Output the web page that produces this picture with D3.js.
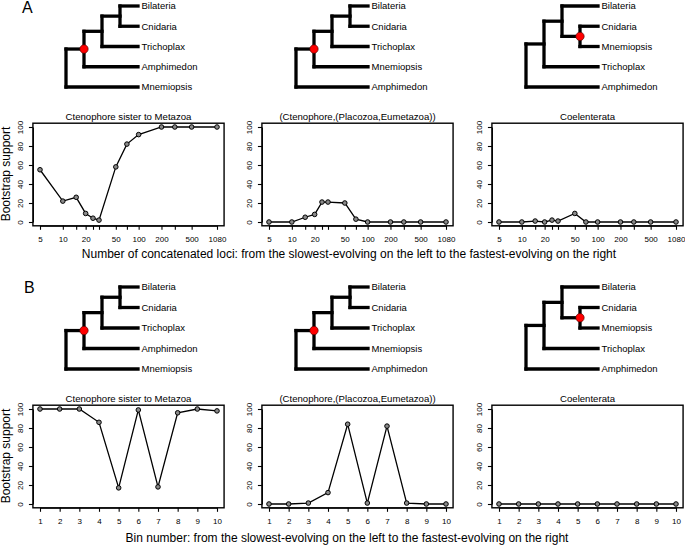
<!DOCTYPE html>
<html><head><meta charset="utf-8">
<script src="https://cdn.jsdelivr.net/npm/d3@7"></script>
<style>body{margin:0;background:#fff}svg{display:block}text{font-family:"Liberation Sans",Arial,Helvetica,sans-serif;fill:#000}</style>
</head><body>
<script>
// ---------- data ----------
const lociCounts = [5,10,15,20,25,30,50,70,100,200,300,500,1080];
const lociTickLabels = [5,10,20,50,100,200,500,1080];
const supportA_sister = [55,22,26,9,4,2,58,82,92,100,100,100,100];
const supportA_placozoa = [0,0,5,8,21,21,20,3,0,0,0,0,0];
const supportA_coelenterata = [0,0,1,0,2,1,9,0,0,0,0,0,0];

const binNumbers = [1,2,3,4,5,6,7,8,9,10];
const supportB_sister = [100,100,100,86,17,99,18,96,100,98];
const supportB_placozoa = [0,0,1,12,84,1,82,1,0,0];
const supportB_coelenterata = [0,0,0,0,0,0,0,0,0,0];

const yTicks = [0,20,40,60,80,100];
const plotTitles = ["Ctenophore sister to Metazoa","(Ctenophore,(Placozoa,Eumetazoa))","Coelenterata"];

const treeSister = [[[["Bilateria","Cnidaria"],"Trichoplax"],"Amphimedon"],"Mnemiopsis"];
const treePlacozoa = [[[["Bilateria","Cnidaria"],"Trichoplax"],"Mnemiopsis"],"Amphimedon"];
const treeCoelenterata = [[["Bilateria",["Cnidaria","Mnemiopsis"]],"Trichoplax"],"Amphimedon"];
const markedNodePaths = [[0],[0],[0,0,1]];

const xLabelA = "Number of concatenated loci: from the slowest-evolving on the left to the fastest-evolving on the right";
const xLabelB = "Bin number: from the slowest-evolving on the left to the fastest-evolving on the right";
const yLabel = "Bootstrap support";

// ---------- layout ----------
const W = 685, H = 546;
const svg = d3.select("body").append("svg").attr("width", W).attr("height", H);

const colX0 = [40, 269, 499];   // data start x per column
const colSpan = 177;
const treeRootX = [66, 296, 526];
const depthStep = 18;

function drawTree(tree, rootX, tipY0, tipStep, markPath) {
  const root = d3.hierarchy(tree, d => Array.isArray(d) ? d : null);
  const leaves = root.leaves();
  const tipX = rootX + 4 * depthStep;
  leaves.forEach((l, i) => { l.y0 = tipY0 + i * tipStep; });
  root.eachAfter(n => {
    if (n.children) {
      n.px = rootX + n.depth * depthStep;
      n.y0 = (n.children[0].y0 + n.children[n.children.length - 1].y0) / 2;
    } else n.px = tipX;
  });
  const g = svg.append("g");
  const lw = 3.3;
  root.each(n => {
    if (!n.children) return;
    const ys = n.children.map(c => c.y0);
    g.append("line").attr("x1", n.px).attr("x2", n.px)
      .attr("y1", d3.min(ys)).attr("y2", d3.max(ys))
      .attr("stroke", "#000").attr("stroke-width", lw).attr("stroke-linecap", "square");
    n.children.forEach(c => {
      g.append("line").attr("x1", n.px).attr("x2", c.px)
        .attr("y1", c.y0).attr("y2", c.y0)
        .attr("stroke", "#000").attr("stroke-width", lw).attr("stroke-linecap", "square");
    });
  });
  leaves.forEach(l => {
    g.append("text").attr("x", tipX + 3.5).attr("y", l.y0 + 3.3)
      .attr("font-size", 9.5).text(l.data);
  });
  let m = root;
  markPath.forEach(i => { m = m.children[i]; });
  g.append("circle").attr("cx", m.px).attr("cy", m.y0).attr("r", 4.2)
    .attr("fill", "#ff0000").attr("stroke", "#400").attr("stroke-width", 0.6);
}

function drawPlot(col, yTop100, yBottom0, xs, ys, logScale, tickVals, labelVals, title) {
  const x0 = colX0[col], x1 = x0 + colSpan;
  const x = (logScale ? d3.scaleLog() : d3.scaleLinear())
    .domain([xs[0], xs[xs.length - 1]]).range([x0, x1]);
  const y = d3.scaleLinear().domain([0, 100]).range([yBottom0, yTop100]);
  const padX = colSpan * 0.04, padY = (yBottom0 - yTop100) * 0.04;
  const bx0 = x0 - padX, bx1 = x1 + padX, by0 = yTop100 - padY, by1 = yBottom0 + padY;
  const g = svg.append("g");

  // x axis
  const xAxis = d3.axisBottom(x).tickValues(tickVals).tickSize(4).tickSizeOuter(0)
    .tickFormat(d => labelVals.includes(d) ? String(d) : "");
  const gx = g.append("g").attr("transform", `translate(0,${by1})`).call(xAxis);
  gx.select(".domain").attr("stroke-width", 1.1);
  gx.selectAll(".tick line").attr("stroke-width", 1.1);
  gx.selectAll(".tick text").attr("font-size", 8).attr("font-family", "Liberation Sans, Arial, sans-serif")
    .attr("dy", null).attr("y", 0).attr("transform", "translate(0,16.5)");

  // y axis
  const yAxis = d3.axisLeft(y).tickValues(yTicks).tickSize(4).tickSizeOuter(0);
  const gy = g.append("g").attr("transform", `translate(${bx0},0)`).call(yAxis);
  gy.select(".domain").attr("stroke-width", 1.1);
  gy.selectAll(".tick line").attr("stroke-width", 1.1);
  gy.selectAll(".tick text").attr("font-size", 8).attr("font-family", "Liberation Sans, Arial, sans-serif")
    .attr("x", null).attr("dy", null)
    .attr("transform", "translate(-10,0) rotate(-90)").attr("text-anchor", "middle").attr("y", 0);

  // box
  g.append("rect").attr("x", bx0).attr("y", by0).attr("width", bx1 - bx0).attr("height", by1 - by0)
    .attr("fill", "none").attr("stroke", "#000").attr("stroke-width", 1.4);

  // title
  g.append("text").attr("x", (bx0 + bx1) / 2).attr("y", by0 - 3.5).attr("text-anchor", "middle")
    .attr("font-size", 9.6).text(title);

  // line + points
  const pts = xs.map((v, i) => [v, ys[i]]);
  g.append("path").datum(pts)
    .attr("d", d3.line().x(d => x(d[0])).y(d => y(d[1])))
    .attr("fill", "none").attr("stroke", "#000").attr("stroke-width", 1.3);
  g.selectAll("circle.pt").data(pts).join("circle").attr("class", "pt")
    .attr("cx", d => x(d[0])).attr("cy", d => y(d[1])).attr("r", 2.3)
    .attr("fill", "#8a8a8a").attr("stroke", "#000").attr("stroke-width", 1);
}

// ---------- panel A ----------
svg.append("text").attr("x", 22).attr("y", 13).attr("font-size", 16).text("A");
const treesList = [treeSister, treePlacozoa, treeCoelenterata];
treesList.forEach((t, i) => drawTree(t, treeRootX[i], 6, 20.25, markedNodePaths[i]));
const seriesA = [supportA_sister, supportA_placozoa, supportA_coelenterata];
seriesA.forEach((s, i) => drawPlot(i, 127, 222, lociCounts, s, true, lociCounts, lociTickLabels, plotTitles[i]));
svg.append("text").attr("x", 349).attr("y", 258).attr("text-anchor", "middle").attr("font-size", 12).text(xLabelA);
svg.append("text").attr("transform", "translate(10,174) rotate(-90)").attr("text-anchor", "middle")
  .attr("font-size", 12).text(yLabel);

// ---------- panel B ----------
svg.append("text").attr("x", 24).attr("y", 293).attr("font-size", 16).text("B");
treesList.forEach((t, i) => drawTree(t, treeRootX[i], 287, 20.5, markedNodePaths[i]));
const seriesB = [supportB_sister, supportB_placozoa, supportB_coelenterata];
seriesB.forEach((s, i) => drawPlot(i, 409, 504, binNumbers, s, false, binNumbers, binNumbers, plotTitles[i]));
svg.append("text").attr("x", 347).attr("y", 542).attr("text-anchor", "middle").attr("font-size", 12).text(xLabelB);
svg.append("text").attr("transform", "translate(10,456) rotate(-90)").attr("text-anchor", "middle")
  .attr("font-size", 12).text(yLabel);
</script>
</body></html>
